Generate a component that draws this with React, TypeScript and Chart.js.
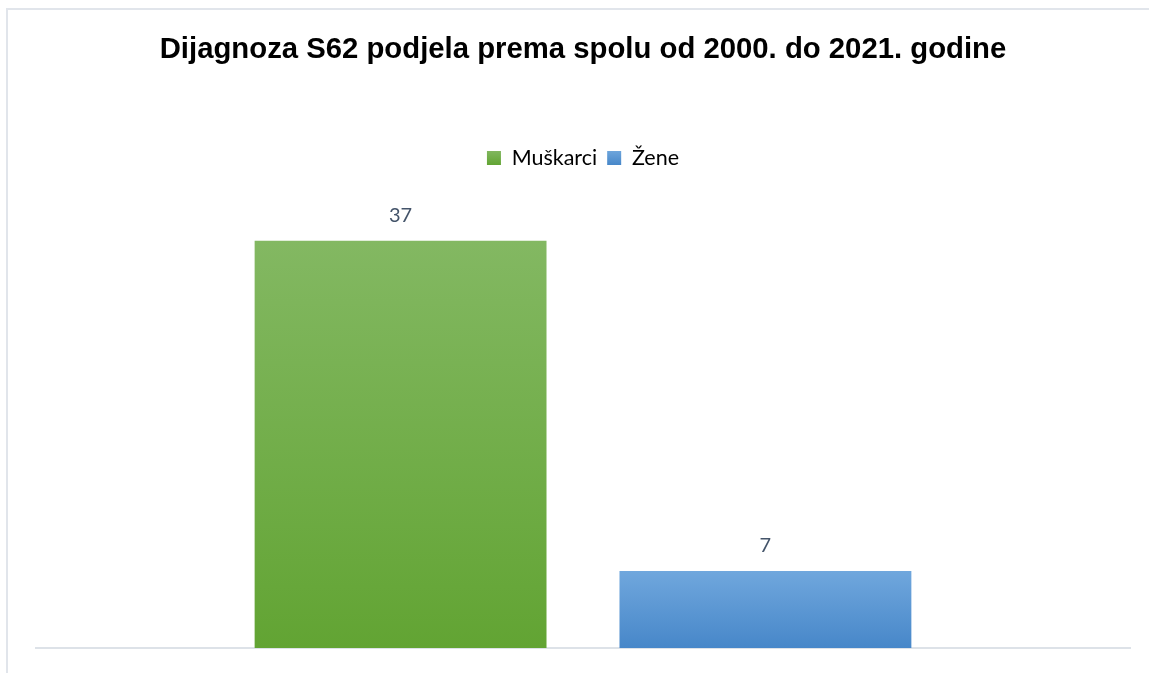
import React, { useEffect, useRef } from "react";
import { Chart, registerables } from "chart.js";

Chart.register(...registerables);

const categories = ["S62"];
const seriesNames = ["Muškarci", "Žene"];
const muskarci = [37];
const zene = [7];
const yMax = 40;

const titleText = "Dijagnoza S62 podjela prema spolu od 2000. do 2021. godine";

const gradStops: Record<string, [string, string]> = {
  green: ["#83b862", "#62a433"],
  blue: ["#70a7dd", "#4787c9"],
};

function barGradient(ctx: any, key: string) {
  const chart = ctx.chart;
  const area = chart.chartArea;
  if (!area) return gradStops[key][1];
  const y = chart.scales.y;
  const v = ctx.raw ?? 0;
  const top = y.getPixelForValue(v);
  const bottom = y.getPixelForValue(0);
  const g = chart.ctx.createLinearGradient(0, top, 0, bottom === top ? top + 1 : bottom);
  g.addColorStop(0, gradStops[key][0]);
  g.addColorStop(1, gradStops[key][1]);
  return g;
}

function legendGradient(chart: any, key: string) {
  const g = chart.ctx.createLinearGradient(0, 150, 0, 165);
  g.addColorStop(0, gradStops[key][0]);
  g.addColorStop(1, gradStops[key][1]);
  return g;
}

const dataLabels = {
  id: "dataLabels",
  afterDatasetsDraw(chart: any) {
    const { ctx } = chart;
    ctx.save();
    ctx.font = "20px Lato, 'Open Sans', sans-serif";
    ctx.fillStyle = "#44546a";
    ctx.textAlign = "center";
    ctx.textBaseline = "middle";
    chart.data.datasets.forEach((ds: any, i: number) => {
      const meta = chart.getDatasetMeta(i);
      meta.data.forEach((bar: any, j: number) => {
        ctx.fillText(String(ds.data[j]), bar.x, bar.y - 25);
      });
    });
    ctx.restore();
  },
};

const legendSpacing = {
  id: "legendSpacing",
  beforeInit(chart: any) {
    if (!chart.legend) return;
    const origFit = chart.legend.fit;
    chart.legend.fit = function () {
      origFit.bind(chart.legend)();
      this.height += 29;
    };
  },
};

export default function App() {
  const ref = useRef<HTMLCanvasElement>(null);
  useEffect(() => {
    if (!ref.current) return;
    const chart = new Chart(ref.current, {
      type: "bar",
      data: {
        labels: categories,
        datasets: [
          {
            label: seriesNames[0],
            data: muskarci,
            backgroundColor: (c: any) => barGradient(c, "green"),
            categoryPercentage: 0.667,
            barPercentage: 0.8,
          },
          {
            label: seriesNames[1],
            data: zene,
            backgroundColor: (c: any) => barGradient(c, "blue"),
            categoryPercentage: 0.667,
            barPercentage: 0.8,
          },
        ],
      },
      options: {
        animation: false,
        responsive: false,
        layout: { padding: { left: 36, right: 19, bottom: 17, top: 0 } },
        plugins: {
          title: {
            display: true,
            text: titleText,
            color: "#000000",
            font: { family: "'Liberation Sans', Arial, sans-serif", size: 29.3, weight: "bold" },
            padding: { top: 32, bottom: 70 },
          },
          legend: {
            display: true,
            labels: {
              color: "#44546a",
              font: { family: "Lato, 'Open Sans', sans-serif", size: 21.5 },
              boxWidth: 14,
              boxHeight: 14,
              padding: 10,
              generateLabels: (chart: any) =>
                seriesNames.map((n, i) => ({
                  text: n,
                  fillStyle: legendGradient(chart, i === 0 ? "green" : "blue"),
                  strokeStyle: "rgba(0,0,0,0)",
                  lineWidth: 0,
                  datasetIndex: i,
                  hidden: false,
                })),
            },
          },
          tooltip: { enabled: false },
        },
        scales: {
          x: {
            grid: { display: false },
            ticks: { display: false },
            border: { display: true, color: "#dde2e8", width: 2 },
          },
          y: {
            display: false,
            min: 0,
            max: yMax,
          },
        },
      },
      plugins: [dataLabels, legendSpacing],
    });
    return () => chart.destroy();
  }, []);

  return (
    <div style={{ position: "absolute", left: 0, top: 0, width: 1149, height: 673, background: "#fff", overflow: "hidden" }}>
      <div
        style={{
          position: "absolute",
          left: 6,
          top: 8,
          width: 1160,
          height: 700,
          border: "2px solid #e1e5eb",
          boxSizing: "border-box",
        }}
      />
      <canvas ref={ref} width={1149} height={673} style={{ position: "absolute", left: 0, top: 0 }} />
    </div>
  );
}
